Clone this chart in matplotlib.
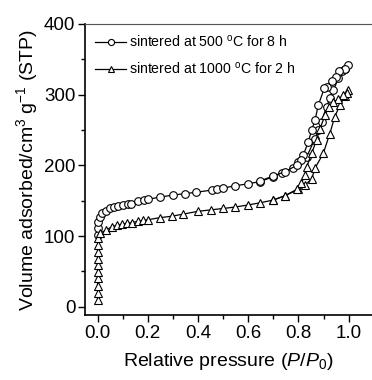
import matplotlib
matplotlib.use("Agg")
import matplotlib.pyplot as plt
from matplotlib.ticker import MultipleLocator

plt.rcParams['font.family'] = ['Liberation Sans', 'DejaVu Sans']
plt.rcParams['mathtext.fontset'] = 'custom'
plt.rcParams['mathtext.rm'] = 'Liberation Sans'
plt.rcParams['mathtext.it'] = 'Liberation Sans:italic'

# 500 C / 8 h sample (circles)
p500_ads = [0.0, 0.001, 0.003, 0.009, 0.016, 0.032, 0.05, 0.066, 0.082, 0.102, 0.122, 0.135,
            0.162, 0.186, 0.2, 0.248, 0.3, 0.348, 0.394, 0.454, 0.474, 0.5, 0.547, 0.6,
            0.647, 0.7, 0.733, 0.78, 0.8, 0.833, 0.866, 0.879, 0.892, 0.912, 0.925,
            0.939, 0.959, 0.972, 0.985, 0.998]
v500_ads = [101, 112, 120, 127, 132, 135, 139, 141, 143, 144, 145, 146,
            149, 151, 152, 155, 158, 160, 162, 165, 166, 168, 171, 174,
            177, 184, 189, 196, 205, 212, 238, 250, 262, 283, 295,
            306, 323, 333, 337, 342]
p500_des = [0.985, 0.963, 0.95, 0.932, 0.912, 0.903, 0.879, 0.866, 0.853, 0.839, 0.819,
            0.809, 0.793, 0.746, 0.7, 0.647]
v500_des = [337, 333, 325, 320, 311, 309, 285, 264, 250, 233, 214,
            207, 200, 191, 185, 178]

# 1000 C / 2 h sample (triangles)
p1000_ads = [0.0, 0.0, 0.0, 0.0, 0.0, 0.0, 0.0, 0.0, 0.0, 0.001, 0.009, 0.032, 0.056,
             0.076, 0.096, 0.116, 0.136, 0.162, 0.182, 0.2, 0.248, 0.295, 0.34, 0.4,
             0.45, 0.5, 0.547, 0.6, 0.647, 0.7, 0.746, 0.8, 0.826, 0.853, 0.866,
             0.899, 0.925, 0.945, 0.965, 0.985, 0.998]
v1000_ads = [10, 20, 30, 40, 49, 59, 68, 78, 87, 97, 104, 108, 113,
             115, 117, 118, 119, 121, 122, 123, 126, 128, 131, 135,
             137, 139, 141, 144, 147, 151, 157, 166, 172, 181, 196,
             217, 245, 269, 285, 298, 306]
p1000_des = [0.992, 0.979, 0.959, 0.939, 0.92, 0.906, 0.886, 0.872, 0.853, 0.833,
             0.826, 0.812, 0.793, 0.746, 0.7]
v1000_des = [302, 299, 294, 289, 282, 271, 252, 236, 217, 198,
             186, 175, 166, 157, 151]

labels = ['sintered at 500 $^{\\rm o}$C for 8 h', 'sintered at 1000 $^{\\rm o}$C for 2 h']

fig = plt.figure(figsize=(3.72, 3.80), dpi=100)
ax = fig.add_axes([85 / 372, 65 / 380, 1 - 85 / 372, 291 / 380])

mk = dict(color='black', lw=0.9, mfc='white', mec='black', mew=0.8, markersize=5.5)
ax.plot(p500_ads, v500_ads, marker='o', label=labels[0], **mk)
ax.plot(p500_des, v500_des, marker='o', **mk)
ax.plot(p1000_ads, v1000_ads, marker='^', label=labels[1], **mk)
ax.plot(p1000_des, v1000_des, marker='^', **mk)

ax.set_xlim(-0.05, 1.093)
ax.set_ylim(-11.7, 400)
ax.xaxis.set_minor_locator(MultipleLocator(0.1))
ax.yaxis.set_major_locator(MultipleLocator(100))
ax.yaxis.set_minor_locator(MultipleLocator(50))
ax.set_xticks([0, 0.2, 0.4, 0.6, 0.8, 1.0])
ax.set_xticklabels(['0.0', '0.2', '0.4', '0.6', '0.8', '1.0'])
ax.tick_params(which='major', direction='out', length=5, width=1, labelsize=13.5, pad=2)
ax.tick_params(which='minor', direction='out', length=3, width=1)

ax.spines['right'].set_visible(False)
ax.spines['top'].set_color('#555555')
ax.spines['top'].set_linewidth(0.8)
ax.spines['top'].set_linestyle((0, (1, 0.5)))
ax.spines['left'].set_linewidth(1.2)
ax.spines['bottom'].set_linewidth(1.2)

ax.set_xlabel('Relative pressure ($P$/$P_0$)', fontsize=14, labelpad=7)
ax.set_ylabel('Volume adsorbed/cm$^3$ g$^{-1}$ (STP)', fontsize=14, labelpad=3)

ax.legend(loc='upper left', frameon=False, fontsize=10.2, handlelength=2.2,
          handletextpad=0.2, borderaxespad=0.3, labelspacing=0.75,
          markerscale=0.8)

fig.savefig('out.png', dpi=100)
